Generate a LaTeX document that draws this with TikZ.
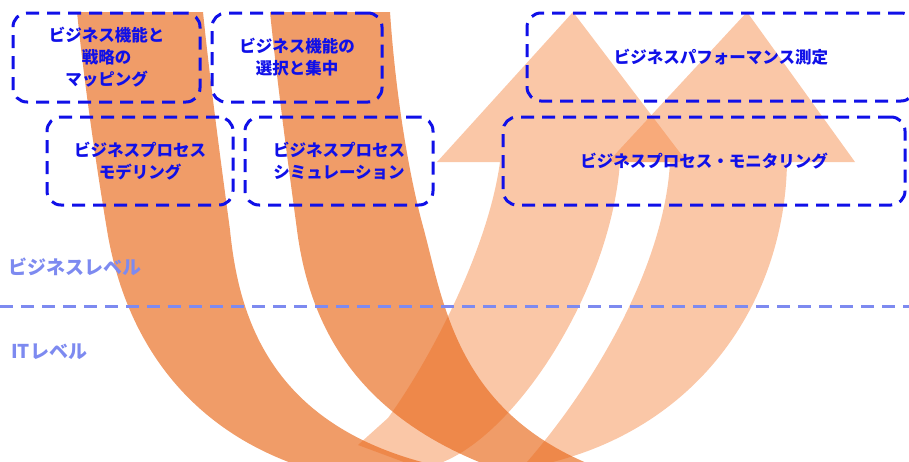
\documentclass[tikz,border=0pt]{standalone}
\usepackage{fontspec}
\newfontfamily\jp{Noto Sans CJK JP}
\definecolor{bandD}{HTML}{E8681A}
\definecolor{bandL}{HTML}{F58A48}
\definecolor{boxblue}{HTML}{1010E8}
\definecolor{lvl}{HTML}{7D8AF0}
\begin{document}
\begin{tikzpicture}[x=1pt,y=-1pt,
  dark/.style={fill=bandD, fill opacity=0.66},
  light/.style={fill=bandL, fill opacity=0.48},
  stagebox/.style={draw=boxblue, line width=3pt, dash pattern=on 13pt off 8pt,
    rounded corners=14pt, inner sep=0pt, align=center, text=boxblue,
    font=\jp\bfseries\fontsize{16.5}{22}\selectfont},
  lvltext/.style={text=lvl, font=\jp\bfseries\fontsize{19}{21}\selectfont,
    anchor=west, inner sep=0pt},
  sepline/.style={draw=lvl, line width=3pt, dash pattern=on 13pt off 8pt}
]
\useasboundingbox (0,0) rectangle (909,461);
\begin{scope}
\clip (0,0) rectangle (909,461);
% light arrow A (inner U, ascending)
\path[light] (358,445) -- (388,418)
  .. controls (430,360) and (488,250) .. (500,162)
  -- (437,162) -- (573,12) -- (687,162) -- (620,162)
  .. controls (610,300) and (500,460) .. (420,468) -- cycle;
% light arrow B (outer U, ascending)
\path[light] (670,162) -- (608,162) -- (747,12) -- (855,162) -- (787,162)
  .. controls (785,300) and (700,430) .. (540,465) -- (520,470)
  .. controls (600,380) and (665,260) .. (670,162) -- cycle;
% dark band 1 (outer U, descending)
\path[dark] (77,12) .. controls (85,90) and (97,170) .. (107,230)
  .. controls (125,340) and (190,440) .. (330,475) -- (520,478)
  .. controls (280,460) and (240,330) .. (230,230)
  .. controls (222,170) and (211,90) .. (203,12) -- cycle;
% dark band 2 (inner U, descending)
\path[dark] (270,12) .. controls (278,90) and (289,170) .. (297,230)
  .. controls (310,330) and (360,420) .. (500,470) -- (610,472)
  .. controls (460,420) and (445,310) .. (424,230)
  .. controls (410,180) and (396,100) .. (390,12) -- cycle;
\end{scope}
% level separator
\coordinate (sepL) at (0,306);
\coordinate (sepR) at (909,306);
\draw[sepline] (sepL) -- (sepR);
\node[lvltext] (lvB) at (8,267) {ビジネスレベル};
\node[lvltext] (lvI) at (11,352) {ITレベル};
% stage boxes
\node[stagebox, minimum width=187pt, minimum height=89pt] (b1) at (106.5,57.5)
  {ビジネス機能と\\戦略の\\マッピング};
\node[stagebox, minimum width=170pt, minimum height=89pt] (b2) at (297,57.5)
  {ビジネス機能の\\選択と集中};
\node[stagebox, minimum width=186pt, minimum height=88pt] (b3) at (140,161)
  {ビジネスプロセス\\モデリング};
\node[stagebox, minimum width=188pt, minimum height=88pt] (b4) at (339,161)
  {ビジネスプロセス\\シミュレーション};
\node[stagebox, minimum width=388pt, minimum height=88pt] (b5) at (721,57)
  {ビジネスパフォーマンス測定};
\node[stagebox, minimum width=402pt, minimum height=88pt] (b6) at (704,161)
  {ビジネスプロセス・モニタリング};
\end{tikzpicture}
\end{document}
